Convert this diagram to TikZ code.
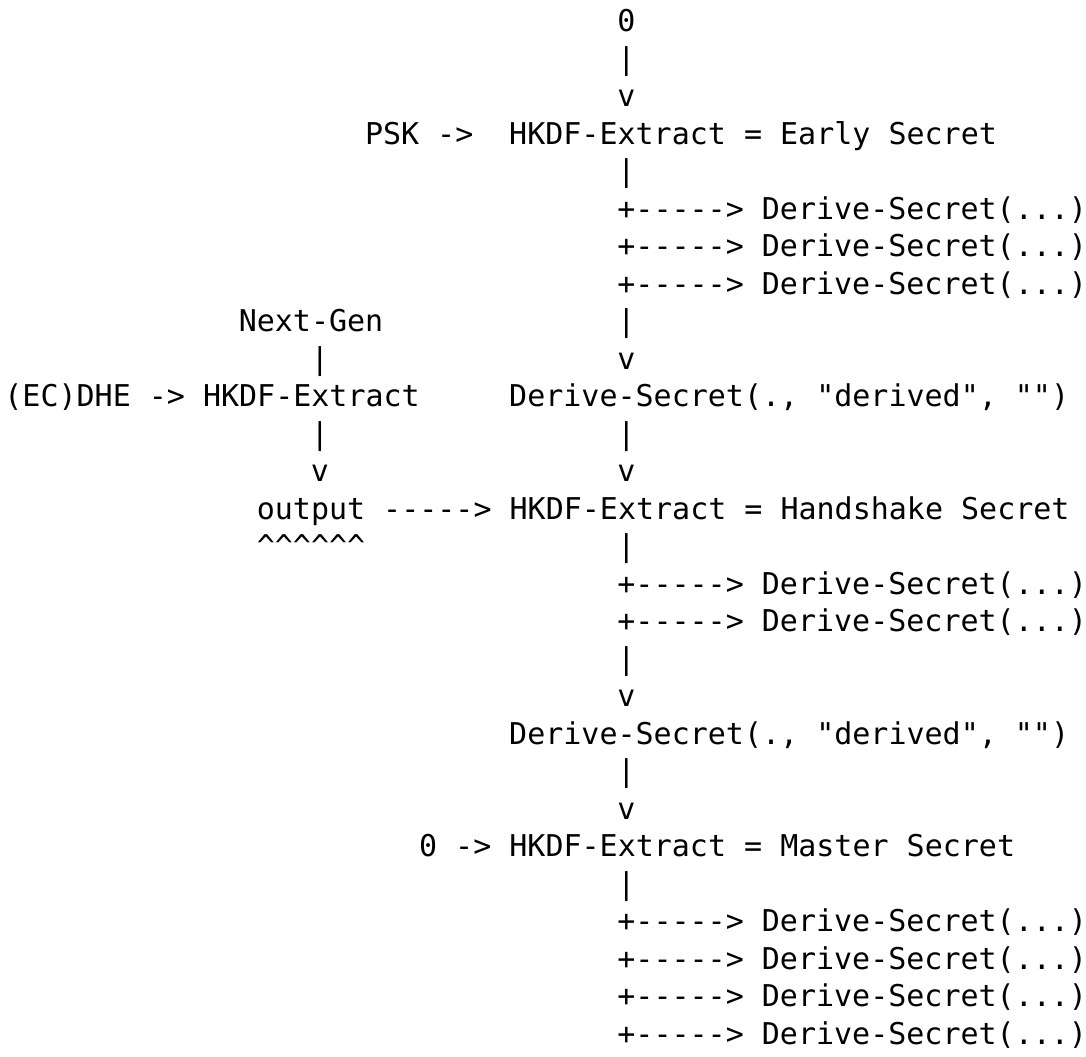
\documentclass[tikz,border=0pt]{standalone}
\usepackage{fontspec}
\setmonofont{DejaVu Sans Mono}
\usepackage{tikz}

\tikzset{
  ascii/.style={anchor=base west, inner sep=0pt, font=\fontsize{15pt}{18pt}\selectfont\ttfamily}
}
\newcommand{\derivedline}{Derive-Secret(., "derived", "")}

\begin{document}
\begin{tikzpicture}[x=9.015pt,y=-18.75pt]
  \fill[white] (-2pt,-3pt) rectangle (541pt,-531pt);
  \useasboundingbox (-2pt,-3pt) rectangle (541pt,-531pt);

  % early secret
  \node[ascii] (z0)   at (34,1)  {0};
  \node[ascii] (a2)   at (34,2)  {|};
  \node[ascii] (a3)   at (34,3)  {v};
  \node[ascii] (psk)  at (20,4)  {PSK ->};
  \node[ascii] (es)   at (28,4)  {HKDF-Extract = Early Secret};
  \node[ascii] (a5)   at (34,5)  {|};
  \foreach \r in {6,7,8}
    \node[ascii] (ed\r) at (34,\r) {+-----> Derive-Secret(...)};
  \node[ascii] (ng)   at (13,9)  {Next-Gen};
  \node[ascii] (a9)   at (34,9)  {|};
  \node[ascii] (b10)  at (17,10) {|};
  \node[ascii] (a10)  at (34,10) {v};

  % handshake secret
  \node[ascii] (dhe)  at (0,11)  {(EC)DHE -> HKDF-Extract};
  \node[ascii] (dv1)  at (28,11) {\derivedline};
  \node[ascii] (b12)  at (17,12) {|};
  \node[ascii] (a12)  at (34,12) {|};
  \node[ascii] (b13)  at (17,13) {v};
  \node[ascii] (a13)  at (34,13) {v};
  \node[ascii] (out)  at (14,14) {output -----> HKDF-Extract = Handshake Secret};
  \node[ascii] (hat)  at (14,15) {\textasciicircum\textasciicircum\textasciicircum\textasciicircum\textasciicircum\textasciicircum};
  \node[ascii] (a15)  at (34,15) {|};
  \foreach \r in {16,17}
    \node[ascii] (hd\r) at (34,\r) {+-----> Derive-Secret(...)};
  \node[ascii] (a18)  at (34,18) {|};
  \node[ascii] (a19)  at (34,19) {v};

  % master secret
  \node[ascii] (dv2)  at (28,20) {\derivedline};
  \node[ascii] (a21)  at (34,21) {|};
  \node[ascii] (a22)  at (34,22) {v};
  \node[ascii] (ms)   at (23,23) {0 -> HKDF-Extract = Master Secret};
  \node[ascii] (a24)  at (34,24) {|};
  \foreach \r in {25,...,28}
    \node[ascii] (md\r) at (34,\r) {+-----> Derive-Secret(...)};
\end{tikzpicture}
\end{document}
